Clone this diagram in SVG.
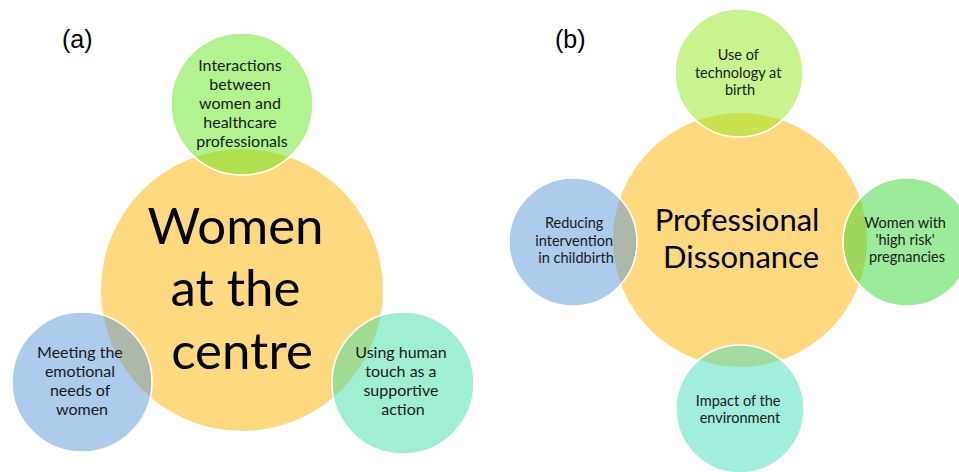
<svg xmlns="http://www.w3.org/2000/svg" width="959" height="472" viewBox="0 0 959 472">
  <style>
    .hub { fill: #FFD97F; }
    .sat { stroke: #FFFFFF; stroke-width: 1.5; fill-opacity: 0.5; }
    .lbl { font-family: Lato, "Open Sans", sans-serif; fill: #1A1A1A; text-anchor: middle; }
    .small { font-size: 16px; }
    .smaller { font-size: 14.5px; }
    .big { font-family: Lato, "Open Sans", sans-serif; fill: #000000; text-anchor: middle; }
    .panel { font-family: "Liberation Sans", Arial, sans-serif; font-size: 25px; fill: #000000; }
  </style>

  <rect width="959" height="472" fill="#FFFFFF"/>

  <!-- panel letters -->
  <text class="panel" x="62" y="48">(a)</text>
  <text class="panel" x="555" y="48">(b)</text>

  <!-- ===== Panel (a) ===== -->
  <g id="a-centre">
    <circle class="hub" cx="242" cy="290" r="141"/>
    <text class="big" font-size="51" x="242">
      <tspan x="242" y="244">Women</tspan>
      <tspan x="242" y="306">at the</tspan>
      <tspan x="242" y="369">centre</tspan>
    </text>
  </g>

  <g id="a-interactions">
    <circle class="sat" cx="242" cy="104" r="71" fill="#63E71F"/>
    <text class="lbl small">
      <tspan x="242" y="71">Interactions</tspan>
      <tspan x="242" y="90">between</tspan>
      <tspan x="242" y="109">women and</tspan>
      <tspan x="242" y="128">healthcare</tspan>
      <tspan x="242" y="147">professionals</tspan>
    </text>
  </g>

  <g id="a-emotional">
    <circle class="sat" cx="82" cy="382" r="70" fill="#5B97D5"/>
    <text class="lbl small">
      <tspan x="82" y="358">Meeting the</tspan>
      <tspan x="82" y="377">emotional</tspan>
      <tspan x="82" y="396">needs of</tspan>
      <tspan x="82" y="415">women</tspan>
    </text>
  </g>

  <g id="a-touch">
    <circle class="sat" cx="403" cy="383" r="71" fill="#41DFA5"/>
    <text class="lbl small">
      <tspan x="403" y="358">Using human</tspan>
      <tspan x="403" y="377">touch as a</tspan>
      <tspan x="403" y="396">supportive</tspan>
      <tspan x="403" y="415">action</tspan>
    </text>
  </g>

  <!-- ===== Panel (b) ===== -->
  <g id="b-dissonance">
    <circle class="hub" cx="740" cy="240" r="127"/>
    <text class="big" font-size="31">
      <tspan x="741" y="231">Professional</tspan>
      <tspan x="741" y="268">Dissonance</tspan>
    </text>
  </g>

  <g id="b-technology">
    <circle class="sat" cx="739" cy="73" r="64" fill="#93E71F"/>
    <text class="lbl smaller">
      <tspan x="740" y="60">Use of</tspan>
      <tspan x="740" y="78">technology at</tspan>
      <tspan x="740" y="95">birth</tspan>
    </text>
  </g>

  <g id="b-highrisk">
    <circle class="sat" cx="907" cy="242" r="64" fill="#39D737"/>
    <text class="lbl smaller">
      <tspan x="907" y="228">Women with</tspan>
      <tspan x="907" y="245">'high risk'</tspan>
      <tspan x="907" y="262">pregnancies</tspan>
    </text>
  </g>

  <g id="b-intervention">
    <circle class="sat" cx="573" cy="242" r="64" fill="#5B97D5"/>
    <text class="lbl smaller">
      <tspan x="576" y="228">Reducing</tspan>
      <tspan x="576" y="246">intervention</tspan>
      <tspan x="576" y="263">in childbirth</tspan>
    </text>
  </g>

  <g id="b-environment">
    <circle class="sat" cx="740" cy="409" r="64" fill="#43DDBB"/>
    <text class="lbl smaller">
      <tspan x="740" y="406">Impact of the</tspan>
      <tspan x="740" y="423">environment</tspan>
    </text>
  </g>
</svg>
